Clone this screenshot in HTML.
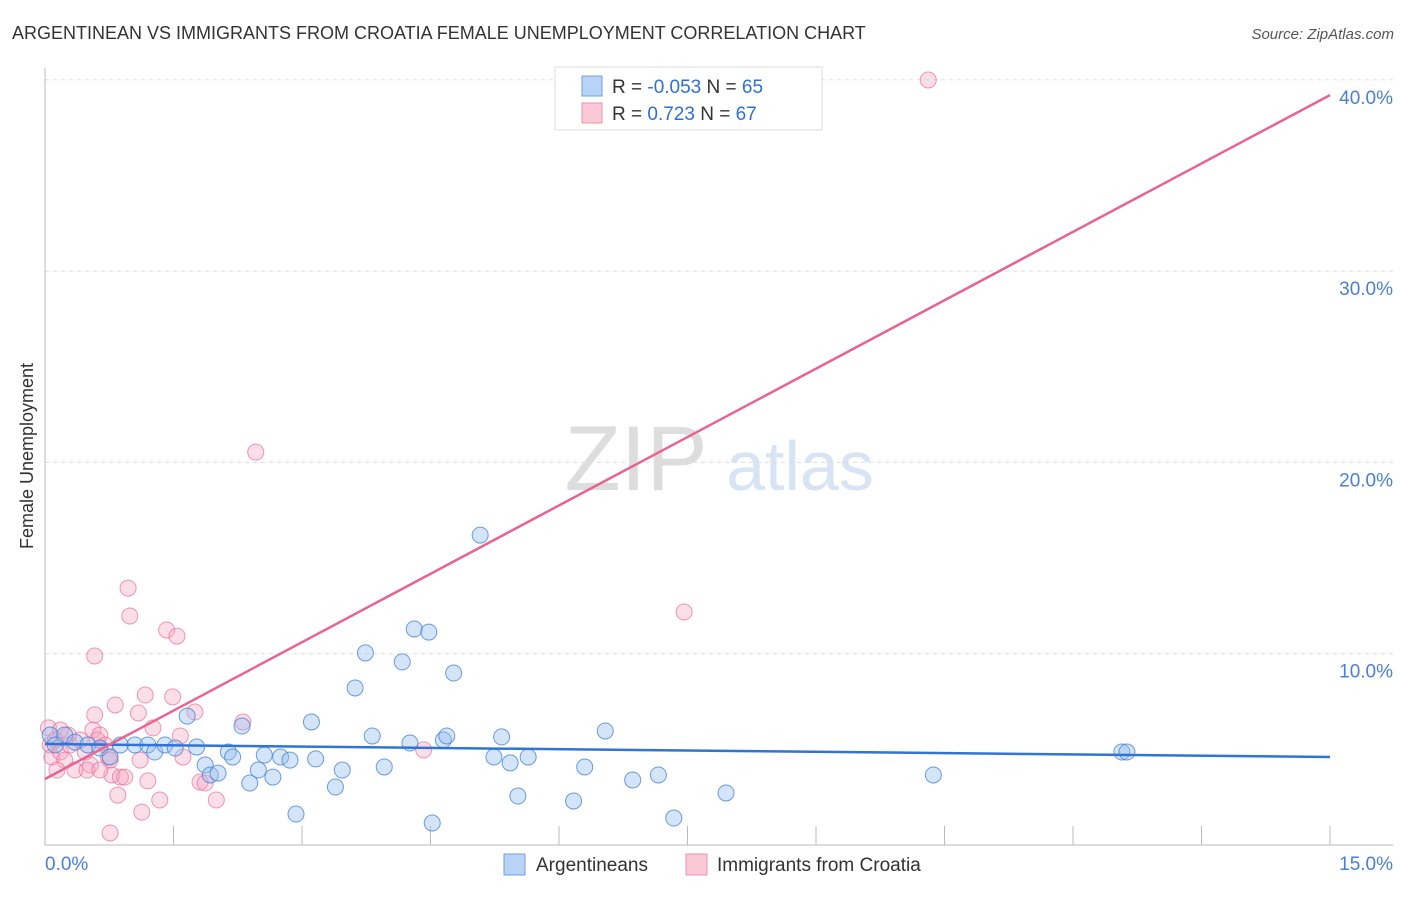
<!DOCTYPE html>
<html><head><meta charset="utf-8"><style>
body{margin:0;background:#fff;font-family:"Liberation Sans",sans-serif;}
svg text{font-family:"Liberation Sans",sans-serif;}
</style></head><body>
<svg id="c" width="1406" height="892">
<text x="12" y="39" font-size="18" fill="#333">ARGENTINEAN VS IMMIGRANTS FROM CROATIA FEMALE UNEMPLOYMENT CORRELATION CHART</text>
<text x="1394" y="39" font-size="15" fill="#555" font-style="italic" text-anchor="end">Source: ZipAtlas.com</text>
<text transform="translate(33,456) rotate(-90)" font-size="18" fill="#333" text-anchor="middle">Female Unemployment</text>
<g><text x="636" y="490" font-size="92" fill="#ddd" font-family="Liberation Serif" text-anchor="middle">ZIP</text><text x="800" y="490" font-size="70" fill="#d6e4f5" text-anchor="middle">atlas</text></g>
<g id="grid"></g><g id="marks"></g>
<g>
<rect x="555" y="67" width="267" height="63" fill="#fff" stroke="#ddd"/>
<rect x="582" y="76" width="20" height="20" fill="#b8d3f5" stroke="#6fa0e0"/>
<rect x="582" y="103" width="20" height="20" fill="#fbc8d8" stroke="#ee93b0"/>
<text x="612" y="93" font-size="19" fill="#333">R = <tspan fill="#2d6fd6">-0.053</tspan>   N = <tspan fill="#2d6fd6">65</tspan></text>
<text x="612" y="120" font-size="19" fill="#333">R =   <tspan fill="#2d6fd6">0.723</tspan>   N = <tspan fill="#2d6fd6">67</tspan></text>
</g>
<g>
<rect x="504" y="854" width="21" height="21" fill="#b8d3f5" stroke="#6fa0e0"/>
<text x="536" y="871" font-size="19" fill="#333">Argentineans</text>
<rect x="686" y="854" width="21" height="21" fill="#fbc8d8" stroke="#ee93b0"/>
<text x="717" y="871" font-size="19" fill="#333">Immigrants from Croatia</text>
</g>
</svg>
<script>
const yTicks=[10,20,30,40];
const xTickLabels=["0.0%","15.0%"];
const blueX=[0.06,0.12,0.23,0.35,0.50,0.64,0.76,0.88,1.05,1.20,1.28,1.40,1.52,1.66,1.77,1.87,1.93,2.02,2.14,2.19,2.30,2.39,2.49,2.56,2.66,2.75,2.86,2.93,3.11,3.16,3.39,3.47,3.62,3.74,3.82,3.96,4.17,4.26,4.31,4.48,4.52,4.65,4.69,4.77,5.08,5.24,5.33,5.43,5.52,5.64,6.17,6.30,6.54,6.86,7.16,7.34,7.95,10.37,12.57,12.63];
const blueY=[5.75,5.23,5.75,5.38,5.23,5.07,4.60,5.23,5.23,5.23,4.86,5.23,5.07,6.74,5.12,4.18,3.66,3.76,4.86,4.60,6.22,3.24,3.92,4.70,3.55,4.60,4.44,1.62,6.43,4.50,3.03,3.92,8.21,10.04,5.70,4.08,9.57,5.33,11.29,11.13,1.15,5.49,5.70,8.99,16.20,4.60,5.65,4.29,2.56,4.60,2.30,4.08,5.96,3.40,3.66,1.41,2.72,3.66,4.86,4.86];
const pinkX=[0.04,0.06,0.08,0.12,0.18,0.23,0.29,0.35,0.41,0.47,0.53,0.56,0.58,0.61,0.64,0.70,0.74,0.76,0.78,0.82,0.85,0.88,0.93,0.97,0.99,1.09,1.11,1.13,1.17,1.20,1.26,1.34,1.42,1.49,1.54,1.58,1.61,1.75,1.81,1.87,2.00,2.31,2.46,4.42,7.46,10.31,0.76,0.58,0.49,0.64,0.27,0.18,0.14];
const pinkY=[6.12,5.23,4.60,5.49,4.86,4.44,5.23,3.92,5.49,4.86,4.18,6.01,6.80,5.49,5.75,5.23,4.60,4.44,3.66,7.32,2.61,3.55,3.55,13.43,11.97,6.90,4.44,1.72,7.84,3.35,6.12,2.35,11.24,7.74,10.92,5.70,4.60,6.95,3.29,3.24,2.35,6.43,20.54,4.97,12.18,39.99,0.63,9.88,3.92,3.92,5.75,6.01,3.92];
const blueTrend=[5.28,4.60];
const pinkTrend=[3.45,39.2];
const X=v=>45+v/15*1285, Y=v=>845-v*19.13;
const NS="http://www.w3.org/2000/svg";
function mk(t,a,p){const e=document.createElementNS(NS,t);for(const k in a)e.setAttribute(k,a[k]);p.appendChild(e);return e;}
const g=document.getElementById('grid'), m=document.getElementById('marks');
yTicks.forEach(t=>{
 const l=mk('line',{x1:45,x2:1393,y1:Y(t),y2:Y(t),stroke:'#ddd','stroke-dasharray':'4,4'},g);
 
 
 const tx=mk('text',{x:1393,y:Y(t)+24,'font-size':19,fill:'#4a7fd6','text-anchor':'end'},g);
 tx.textContent=t.toFixed(1)+'%';
 
 
});
const ax=mk('line',{x1:45,x2:1393,y1:845,y2:845,stroke:'#bbb'},g);


const ay=mk('line',{x1:45,x2:45,y1:68,y2:845,stroke:'#bbb'},g);


for(let i=1;i<=10;i++){
 const t=mk('line',{x1:X(i*1.5),x2:X(i*1.5),y1:826,y2:845,stroke:'#bbb'},g);
 
 
}
[[0,'start',45],[15,'end',1393]].forEach((d,i)=>{
 const t=mk('text',{x:d[2],y:870,'font-size':19,fill:'#4a7fd6','text-anchor':d[1]},g);
 t.textContent=xTickLabels[i];
 
 
});
pinkX.forEach((x,i)=>{
 const c=mk('circle',{cx:X(x),cy:Y(pinkY[i]),r:8,fill:'rgba(246,160,188,0.35)',stroke:'rgba(232,110,150,0.7)','stroke-width':1},m);
 
 
});
blueX.forEach((x,i)=>{
 const c=mk('circle',{cx:X(x),cy:Y(blueY[i]),r:8,fill:'rgba(150,190,240,0.4)',stroke:'rgba(60,125,215,0.75)','stroke-width':1},m);
 
 
});
const bt=mk('line',{x1:X(0),y1:Y(blueTrend[0]),x2:X(15),y2:Y(blueTrend[1]),stroke:'#2f74d6','stroke-width':2.5},m);


const pt=mk('line',{x1:X(0),y1:Y(pinkTrend[0]),x2:X(15),y2:Y(pinkTrend[1]),stroke:'#e8648f','stroke-width':2.5},m);


</script>
</body></html>
